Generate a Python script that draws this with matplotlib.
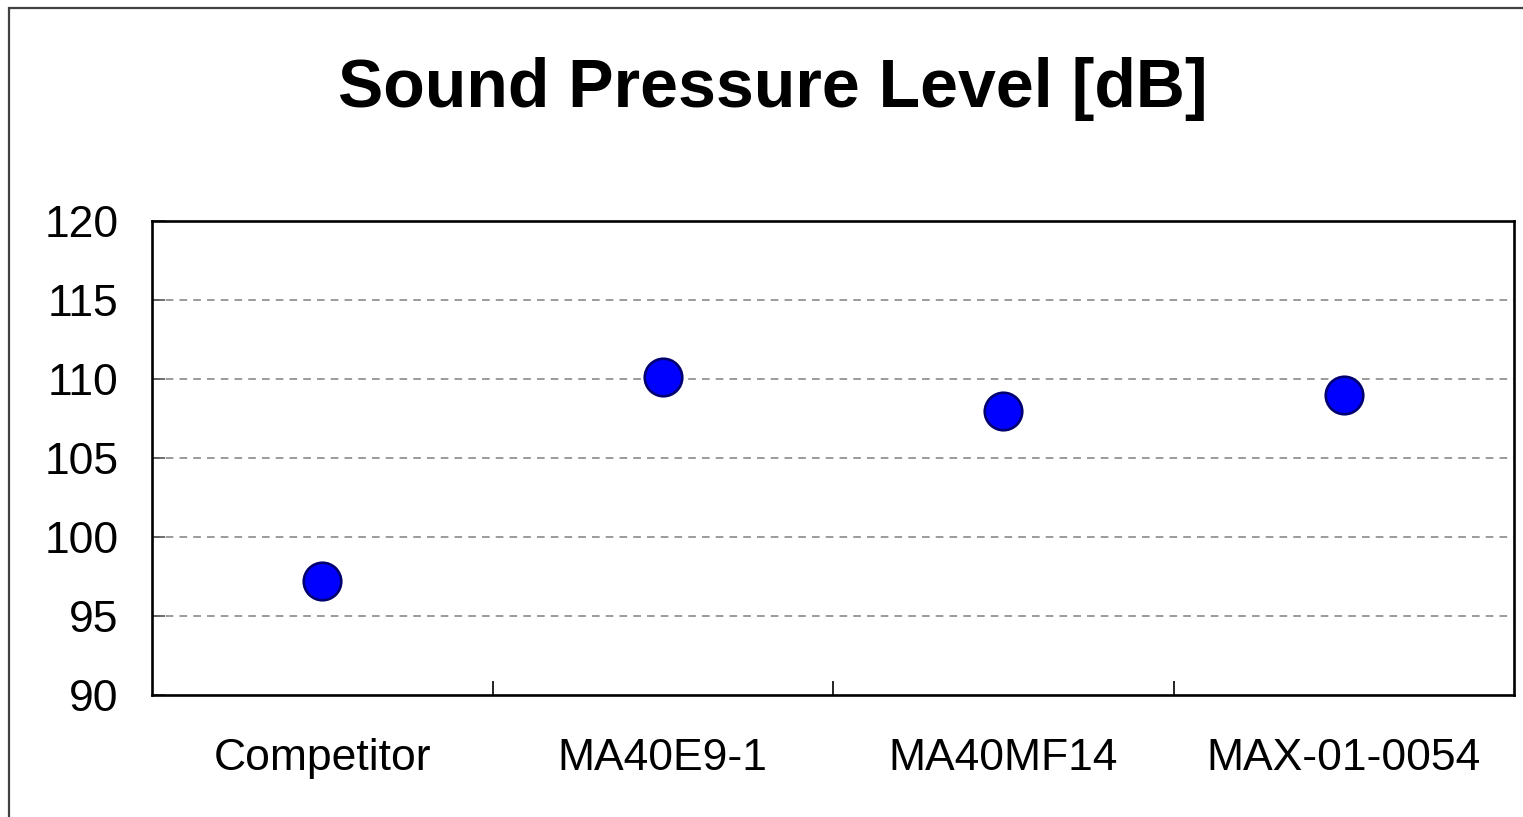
import matplotlib.pyplot as plt
from matplotlib.patches import Rectangle

# data
categories = ["Competitor", "MA40E9-1", "MA40MF14", "MAX-01-0054"]
spl_db = [97.2, 110.1, 108.0, 109.0]
y_ticks = [90, 95, 100, 105, 110, 115, 120]

plt.rcParams["font.family"] = ["Liberation Sans", "DejaVu Sans"]

W, H = 1523, 817
fig = plt.figure(figsize=(W / 100, H / 100), dpi=100)
ax = fig.add_axes([152 / W, 1 - 695 / H, (1514 - 152) / W, (695 - 221) / H])

x = list(range(len(categories)))
ax.plot(x, spl_db, linestyle="none", marker="o", markersize=27,
        markerfacecolor="#0000ff", markeredgecolor="#000070",
        markeredgewidth=1.9, zorder=3)

ax.set_xlim(-0.5, len(categories) - 0.5)
ax.set_ylim(90, 120)
ax.set_yticks(y_ticks)
ax.set_xticks(x)
ax.set_xticklabels(categories)
ax.set_xticks([i + 0.5 for i in x[:-1]], minor=True)

ax.tick_params(axis="x", which="major", length=0, labelsize=32, pad=31)
ax.tick_params(axis="x", which="minor", direction="in", length=10, width=1.2)
ax.tick_params(axis="y", direction="in", length=9, width=1.2, labelsize=32,
               pad=24, color="#555555")

for y in y_ticks[1:-1]:
    ax.axhline(y, color="#808080", linestyle=(0, (5, 4)), linewidth=1.1, zorder=1)

for s in ax.spines.values():
    s.set_linewidth(1.9)
    s.set_color("black")

fig.text(773 / W, 1 - 107 / H, "Sound Pressure Level [dB]", ha="center",
         va="baseline", fontsize=49, fontweight="bold")

# outer chart frame (only left and top edges visible)
fig.patches.append(Rectangle((8.5 / W, -0.1), 1.2, 1 - 7.5 / H + 0.1,
                             transform=fig.transFigure, fill=False,
                             edgecolor="#404040", linewidth=1.6))

fig.savefig("out.png", dpi=100)
